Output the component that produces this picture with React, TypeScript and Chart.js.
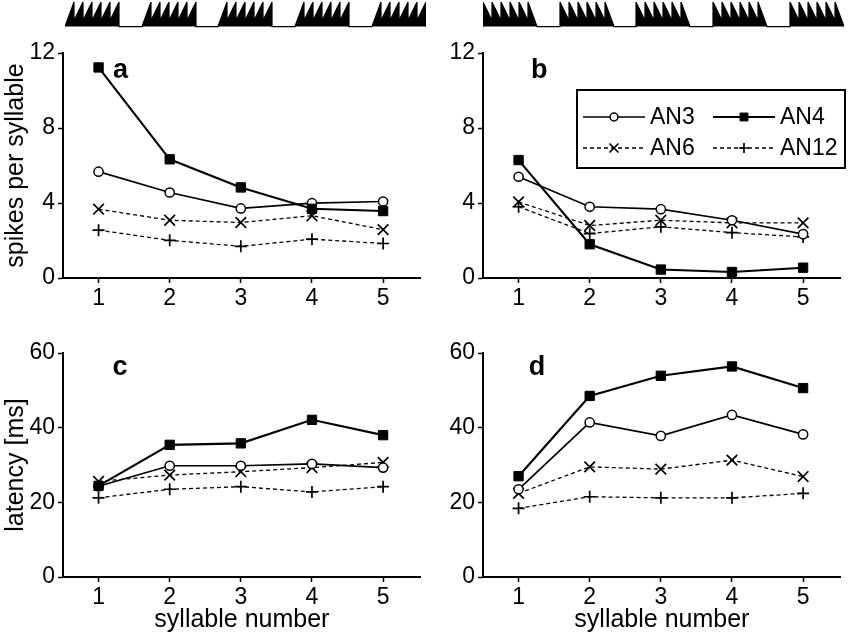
import React, { useEffect, useRef } from 'react';
import { Chart, registerables } from 'chart.js';

Chart.register(...registerables);

// ---------------- data ----------------
const syllables = [1, 2, 3, 4, 5];
const seriesNames = ['AN3', 'AN4', 'AN6', 'AN12'];

// panel a: spikes per syllable
const spikesA_AN3 = [5.67, 4.56, 3.71, 3.99, 4.08];
const spikesA_AN4 = [11.23, 6.33, 4.83, 3.69, 3.57];
const spikesA_AN6 = [3.67, 3.08, 2.96, 3.32, 2.58];
const spikesA_AN12 = [2.55, 2.01, 1.69, 2.07, 1.84];

// panel b: spikes per syllable
const spikesB_AN3 = [5.4, 3.8, 3.67, 3.08, 2.34];
const spikesB_AN4 = [6.29, 1.8, 0.45, 0.32, 0.55];
const spikesB_AN6 = [4.06, 2.8, 3.08, 2.94, 2.94];
const spikesB_AN12 = [3.8, 2.37, 2.73, 2.42, 2.19];

// panel c: latency [ms]
const latencyC_AN3 = [24.3, 29.8, 29.8, 30.3, 29.3];
const latencyC_AN4 = [24.4, 35.4, 35.8, 42.1, 38.0];
const latencyC_AN6 = [25.6, 27.3, 28.2, 29.3, 30.7];
const latencyC_AN12 = [21.2, 23.5, 24.2, 22.8, 24.2];

// panel d: latency [ms]
const latencyD_AN3 = [23.5, 41.4, 37.8, 43.4, 38.2];
const latencyD_AN4 = [27.0, 48.5, 53.9, 56.4, 50.6];
const latencyD_AN6 = [22.4, 29.5, 28.9, 31.3, 26.9];
const latencyD_AN12 = [18.4, 21.5, 21.2, 21.2, 22.4];

const spikeTicks = [0, 4, 8, 12];
const latencyTicks = [0, 20, 40, 60];

// stimulus schematic (arbitrary time units)
const syllableOnsets = [0, 77, 153, 230, 307];
const syllableLength = 54;
const stimulusSpan = 361;
const pulsesPerSyllable = 6;
const pulseTrough = 0.25;

// ---------------- styles ----------------
const FONT = '"Liberation Sans", Arial, Helvetica, sans-serif';
Chart.defaults.font.family = FONT;
Chart.defaults.color = '#000';

const seriesStyle: Record<string, any> = {
  AN3: { pointStyle: 'circle', pointRadius: 4.6, borderWidth: 1.7, borderDash: [], pointBackgroundColor: '#fff', pointBorderWidth: 1.5, order: 1 },
  AN4: { pointStyle: 'rect', pointRadius: 6.6, borderWidth: 2.1, borderDash: [], pointBackgroundColor: '#000', pointBorderWidth: 1, order: 0 },
  AN6: { pointStyle: 'crossRot', pointRadius: 7.5, borderWidth: 1.3, borderDash: [4, 3], pointBackgroundColor: '#000', pointBorderWidth: 1.7, order: 2 },
  AN12: { pointStyle: 'cross', pointRadius: 6, borderWidth: 1.3, borderDash: [4, 3], pointBackgroundColor: '#000', pointBorderWidth: 1.7, order: 3 },
};

function drawMarker(ctx: CanvasRenderingContext2D, style: string, x: number, y: number, r: number, fill: string, bw: number) {
  ctx.save();
  ctx.setLineDash([]);
  ctx.lineWidth = bw;
  ctx.strokeStyle = '#000';
  ctx.fillStyle = fill;
  ctx.beginPath();
  if (style === 'circle') {
    ctx.arc(x, y, r, 0, Math.PI * 2);
    ctx.fill();
    ctx.stroke();
  } else if (style === 'rect') {
    const s = Math.SQRT1_2 * r;
    ctx.rect(x - s, y - s, 2 * s, 2 * s);
    ctx.fill();
    ctx.stroke();
  } else if (style === 'crossRot') {
    const o = Math.SQRT1_2 * r;
    ctx.moveTo(x - o, y - o);
    ctx.lineTo(x + o, y + o);
    ctx.moveTo(x + o, y - o);
    ctx.lineTo(x - o, y + o);
    ctx.stroke();
  } else {
    ctx.moveTo(x - r, y);
    ctx.lineTo(x + r, y);
    ctx.moveTo(x, y - r);
    ctx.lineTo(x, y + r);
    ctx.stroke();
  }
  ctx.restore();
}

const letterPlugin = {
  id: 'panelLetter',
  afterDatasetsDraw(chart: any, _args: any, opts: any) {
    if (!opts || !opts.text) return;
    const { ctx, scales } = chart;
    ctx.save();
    ctx.font = `bold 27px ${FONT}`;
    ctx.fillStyle = '#000';
    ctx.textAlign = 'center';
    ctx.textBaseline = 'alphabetic';
    ctx.fillText(opts.text, scales.x.getPixelForValue(opts.x), scales.y.getPixelForValue(opts.y));
    ctx.restore();
  },
};

const boxLegendPlugin = {
  id: 'boxLegend',
  afterDraw(chart: any, _args: any, opts: any) {
    if (!opts || !opts.show) return;
    const { ctx, chartArea } = chart;
    const bx = chartArea.left + opts.dx;
    const by = chartArea.top + opts.dy;
    ctx.save();
    ctx.fillStyle = '#fff';
    ctx.fillRect(bx, by, opts.w, opts.h);
    ctx.lineWidth = 2;
    ctx.strokeStyle = '#000';
    ctx.setLineDash([]);
    ctx.strokeRect(bx, by, opts.w, opts.h);
    chart.data.datasets.forEach((ds: any, i: number) => {
      const col = i % 2;
      const row = Math.floor(i / 2);
      const x0 = bx + opts.colX[col];
      const y = by + opts.rowY[row];
      ctx.save();
      ctx.setLineDash(ds.borderDash || []);
      ctx.lineWidth = ds.borderWidth;
      ctx.strokeStyle = '#000';
      ctx.beginPath();
      ctx.moveTo(x0, y);
      ctx.lineTo(x0 + opts.sampleLen, y);
      ctx.stroke();
      ctx.restore();
      drawMarker(ctx, ds.pointStyle, x0 + opts.sampleLen / 2, y, ds.pointRadius * opts.markerScale, ds.pointBackgroundColor, ds.pointBorderWidth);
      ctx.fillStyle = '#000';
      ctx.font = `23px ${FONT}`;
      ctx.textAlign = 'left';
      ctx.textBaseline = 'middle';
      ctx.fillText(ds.label, x0 + opts.textOffset, y + 1);
    });
    ctx.restore();
  },
};

// ---------------- components ----------------
type PanelProps = {
  series: number[][];
  yTicks: number[];
  yTitle: string;
  xTitle: string;
  letter: { text: string; x: number; y: number };
  legend: boolean;
  left: number;
  top: number;
  width: number;
  height: number;
  yAxisWidth: number;
  xAxisHeight: number;
  padTop: number;
  padRight: number;
};

function LinePanel(p: PanelProps) {
  const ref = useRef<HTMLCanvasElement>(null);
  useEffect(() => {
    if (!ref.current) return;
    const datasets = seriesNames.map((name, i) => {
      const st = seriesStyle[name];
      return {
        label: name,
        data: syllables.map((s, j) => ({ x: s, y: p.series[i][j] })),
        borderColor: '#000',
        pointBorderColor: '#000',
        pointHoverRadius: st.pointRadius,
        clip: false as any,
        tension: 0,
        ...st,
      };
    });
    const yMax = p.yTicks[p.yTicks.length - 1];
    const chart = new Chart(ref.current, {
      type: 'line',
      data: { datasets },
      plugins: [letterPlugin, boxLegendPlugin],
      options: {
        animation: false,
        responsive: false,
        events: [],
        layout: { padding: { top: p.padTop, right: p.padRight, left: 0, bottom: 0 } },
        plugins: {
          legend: { display: false },
          tooltip: { enabled: false },
          panelLetter: p.letter,
          boxLegend: {
            show: p.legend,
            dx: 94,
            dy: 37,
            w: 268,
            h: 78,
            colX: [6, 136],
            rowY: [27, 58],
            sampleLen: 62,
            textOffset: 67,
            markerScale: 0.85,
          },
        } as any,
        scales: {
          x: {
            type: 'linear',
            min: 0.5,
            max: 5.53,
            afterBuildTicks: (s: any) => {
              s.ticks = syllables.map((v) => ({ value: v }));
            },
            afterFit: (s: any) => {
              s.height = p.xAxisHeight;
            },
            grid: { drawOnChartArea: false, drawTicks: true, tickLength: 5, tickWidth: 1.5, color: '#000' },
            border: { display: true, color: '#000', width: 2 },
            ticks: { color: '#000', font: { size: 23 }, padding: 2, maxRotation: 0, autoSkip: false },
            title: { display: !!p.xTitle, text: p.xTitle, color: '#000', font: { size: 25 }, padding: { top: 0, bottom: 4 } },
          },
          y: {
            type: 'linear',
            min: 0,
            max: yMax,
            afterBuildTicks: (s: any) => {
              s.ticks = p.yTicks.map((v) => ({ value: v }));
            },
            afterFit: (s: any) => {
              s.width = p.yAxisWidth;
            },
            grid: { drawOnChartArea: false, drawTicks: true, tickLength: 5, tickWidth: 1.5, color: '#000' },
            border: { display: true, color: '#000', width: 2 },
            ticks: { color: '#000', font: { size: 23 }, padding: 3 },
            title: { display: !!p.yTitle, text: p.yTitle, color: '#000', font: { size: 25 }, padding: { top: 1, bottom: 0 } },
          },
        } as any,
      },
    });
    return () => chart.destroy();
  }, []);
  return (
    <div style={{ position: 'absolute', left: p.left, top: p.top, width: p.width, height: p.height }}>
      <canvas ref={ref} width={p.width} height={p.height} style={{ display: 'block' }} />
    </div>
  );
}

function buildStimulus(mirrored: boolean) {
  const pts: { x: number; y: number }[] = [];
  const w = syllableLength / pulsesPerSyllable;
  pts.push({ x: 0, y: 0 });
  syllableOnsets.forEach((t0) => {
    pts.push({ x: t0, y: 0 });
    for (let k = 0; k < pulsesPerSyllable; k++) {
      const a = t0 + k * w;
      const b = t0 + (k + 1) * w;
      const last = k === pulsesPerSyllable - 1;
      if (!mirrored) {
        pts.push({ x: b, y: 1 });
        pts.push({ x: b, y: last ? 0 : pulseTrough });
      } else {
        pts.push({ x: a, y: 1 });
        pts.push({ x: b, y: last ? 0 : pulseTrough });
      }
    }
  });
  pts.push({ x: stimulusSpan, y: 0 });
  return pts;
}

function SpikeTrain({ left, top, width, height, mirrored }: { left: number; top: number; width: number; height: number; mirrored: boolean }) {
  const ref = useRef<HTMLCanvasElement>(null);
  useEffect(() => {
    if (!ref.current) return;
    const chart = new Chart(ref.current, {
      type: 'line',
      data: {
        datasets: [
          {
            data: buildStimulus(mirrored),
            borderColor: '#000',
            backgroundColor: '#000',
            borderWidth: 1.2,
            pointRadius: 0,
            fill: 'origin',
            tension: 0,
          },
        ],
      },
      options: {
        animation: false,
        responsive: false,
        events: [],
        layout: { padding: { top: 2, bottom: 0, left: 0, right: 0 } },
        plugins: { legend: { display: false }, tooltip: { enabled: false } },
        scales: {
          x: { type: 'linear', min: 0, max: stimulusSpan, display: false },
          y: { type: 'linear', min: -0.06, max: 1, display: false },
        },
      },
    });
    return () => chart.destroy();
  }, []);
  return (
    <div style={{ position: 'absolute', left, top, width, height }}>
      <canvas ref={ref} width={width} height={height} style={{ display: 'block' }} />
    </div>
  );
}

export default function App() {
  return (
    <div style={{ position: 'absolute', left: 0, top: 0, width: 850, height: 639, background: '#fff', overflow: 'hidden' }}>
      <SpikeTrain left={65} top={0} width={361} height={28} mirrored={false} />
      <SpikeTrain left={483} top={0} width={361} height={28} mirrored={true} />
      <LinePanel
        series={[spikesA_AN3, spikesA_AN4, spikesA_AN6, spikesA_AN12]}
        yTicks={spikeTicks}
        yTitle="spikes per syllable"
        xTitle=""
        letter={{ text: 'a', x: 1.31, y: 10.67 }}
        legend={false}
        left={0}
        top={30}
        width={430}
        height={290}
        yAxisWidth={63}
        xAxisHeight={42}
        padTop={23}
        padRight={5}
      />
      <LinePanel
        series={[spikesB_AN3, spikesB_AN4, spikesB_AN6, spikesB_AN12]}
        yTicks={spikeTicks}
        yTitle=""
        xTitle=""
        letter={{ text: 'b', x: 1.29, y: 10.67 }}
        legend={true}
        left={430}
        top={30}
        width={420}
        height={290}
        yAxisWidth={53}
        xAxisHeight={42}
        padTop={23}
        padRight={5}
      />
      <LinePanel
        series={[latencyC_AN3, latencyC_AN4, latencyC_AN6, latencyC_AN12]}
        yTicks={latencyTicks}
        yTitle="latency [ms]"
        xTitle="syllable number"
        letter={{ text: 'c', x: 1.3, y: 54.1 }}
        legend={false}
        left={0}
        top={330}
        width={430}
        height={309}
        yAxisWidth={63}
        xAxisHeight={62}
        padTop={23}
        padRight={5}
      />
      <LinePanel
        series={[latencyD_AN3, latencyD_AN4, latencyD_AN6, latencyD_AN12]}
        yTicks={latencyTicks}
        yTitle=""
        xTitle="syllable number"
        letter={{ text: 'd', x: 1.26, y: 54.1 }}
        legend={false}
        left={430}
        top={330}
        width={420}
        height={309}
        yAxisWidth={53}
        xAxisHeight={62}
        padTop={23}
        padRight={5}
      />
    </div>
  );
}
